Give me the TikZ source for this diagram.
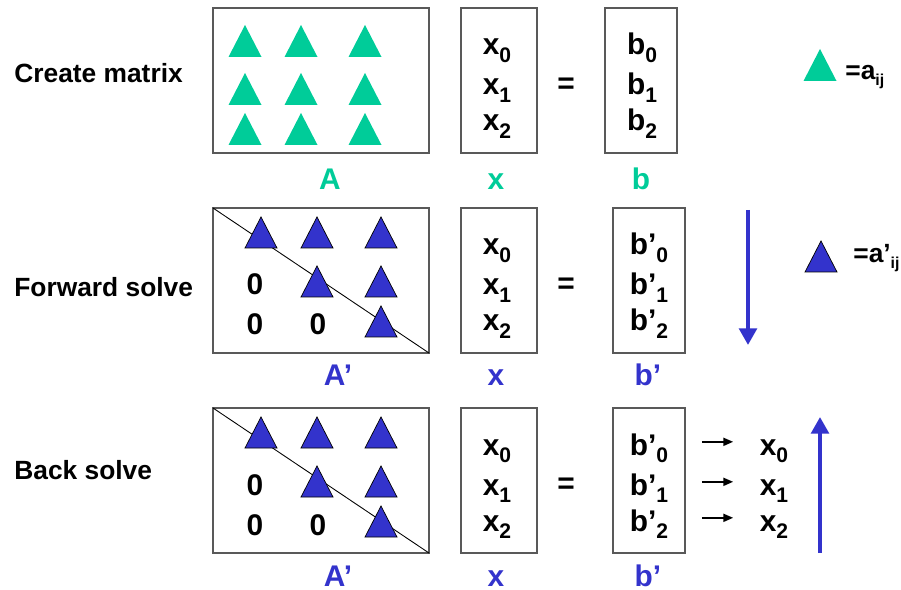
\documentclass[tikz,border=0pt]{standalone}
\usepackage{fontspec}
\setmainfont{Liberation Sans}
\usetikzlibrary{arrows.meta, positioning}
\definecolor{matgreen}{RGB}{0, 204, 153}
\definecolor{solveblue}{RGB}{51, 51, 204}
\newcommand{\sbs}[1]{\raisebox{-4pt}{\fontsize{12}{12}\selectfont #1}}
\newcommand{\lsbs}[1]{\raisebox{-3pt}{\fontsize{9}{9}\selectfont #1}}

\begin{document}
\begin{tikzpicture}[x=0.02cm, y=-0.02cm,
    every node/.style={font=\fontsize{17}{17}\selectfont\bfseries, inner sep=0pt},
    mbox/.style={draw=black!65, line width=0.8pt},
    rowlabel/.style={anchor=base west, font=\fontsize{15}{15}\selectfont\bfseries},
    legend/.style={anchor=base west, font=\fontsize{15}{15}\selectfont\bfseries},
    entry/.style={anchor=base},
    bigarrow/.style={draw=solveblue, line width=2.3pt, -{Triangle[length=9.5pt, width=10pt]}},
    smallarr/.style={line width=1pt, -{Triangle[length=5.5pt, width=4.5pt]}},
    gtri/.pic={\fill[matgreen] (-16.5,0) -- (16.5,0) -- (0,-32) -- cycle;},
    btri/.pic={\filldraw[fill=solveblue, draw=black, line width=0.4pt] (-16,0) -- (16,0) -- (0,-31) -- cycle;}]
  \useasboundingbox (0,0) rectangle (901,590);

  % row labels
  \node[rowlabel] (lcreate) at (14,83) {Create matrix};
  \node[rowlabel] (lforward) at (14,297) {Forward solve};
  \node[rowlabel] (lback) at (14,479) {Back solve};

  % create matrix
  \draw[mbox] (213,8) rectangle (429,153);
  \foreach \px in {245,301,365}
    \foreach \py in {57,105,145}
      \pic at (\px,\py) {gtri};
  \draw[mbox] (461,8) rectangle (537,153);
  \draw[mbox] (605,8) rectangle (677,153);
  \foreach \i/\yb in {0/55,1/95,2/131} {
    \node[entry] (xc\i) at (497,\yb) {x\sbs{\i}};
    \node[entry] (bc\i) at (642,\yb) {b\sbs{\i}};
  }
  \node (eqc) at (566,86) {=};
  \node[entry, text=matgreen] (lA) at (330,190) {A};
  \node[entry, text=matgreen] (lx) at (496,190) {x};
  \node[entry, text=matgreen] (lb) at (641,190) {b};
  \pic at (820,81) {gtri};
  \node[legend] (lega) at (845,80) {=a\lsbs{ij}};

  % forward and back solve
  \foreach \t in {200,400} {
    \draw[mbox] (213,8+\t) rectangle (429,153+\t);
    \draw[line width=0.5pt] (213,8+\t) -- (429,153+\t);
    \foreach \px in {261,317,381} \pic at (\px,48+\t) {btri};
    \foreach \px in {317,381} \pic at (\px,97+\t) {btri};
    \pic at (381,137+\t) {btri};
    \node[entry] (za\t) at (255,95+\t) {0};
    \node[entry] (zb\t) at (255,135+\t) {0};
    \node[entry] (zc\t) at (318,135+\t) {0};
    \draw[mbox] (461,8+\t) rectangle (537,153+\t);
    \draw[mbox] (613,8+\t) rectangle (685,153+\t);
    \foreach \i/\yb in {0/55,1/95,2/131} {
      \node[entry] (xs\i\t) at (497,\yb+\t) {x\sbs{\i}};
      \node[entry] (bs\i\t) at (649,\yb+\t) {b’\sbs{\i}};
    }
    \node (eqs\t) at (566,86+\t) {=};
    \node[entry, text=solveblue] (lAp\t) at (338,186+\t) {A’};
    \node[entry, text=solveblue] (lxp\t) at (496,186+\t) {x};
    \node[entry, text=solveblue] (lbp\t) at (648,186+\t) {b’};
  }

  % forward solve: direction and legend
  \coordinate (fwdtop) at (748,210);
  \coordinate (fwdbot) at (748,345);
  \draw[bigarrow] (fwdtop) -- (fwdbot);
  \pic at (821,272) {btri};
  \node[legend] (legb) at (853,263) {=a’\lsbs{ij}};

  % back solve: results and direction
  \foreach \i/\yb in {0/455,1/495,2/531} {
    \node[entry] (xr\i) at (774,\yb) {x\sbs{\i}};
    \draw[smallarr] ([xshift=19pt, yshift=7.5pt]bs\i400.base east) -- ([xshift=-15pt, yshift=7.5pt]xr\i.base west);
  }
  \coordinate (backbot) at (820,553);
  \coordinate (backtop) at (820,417);
  \draw[bigarrow] (backbot) -- (backtop);
\end{tikzpicture}
\end{document}
